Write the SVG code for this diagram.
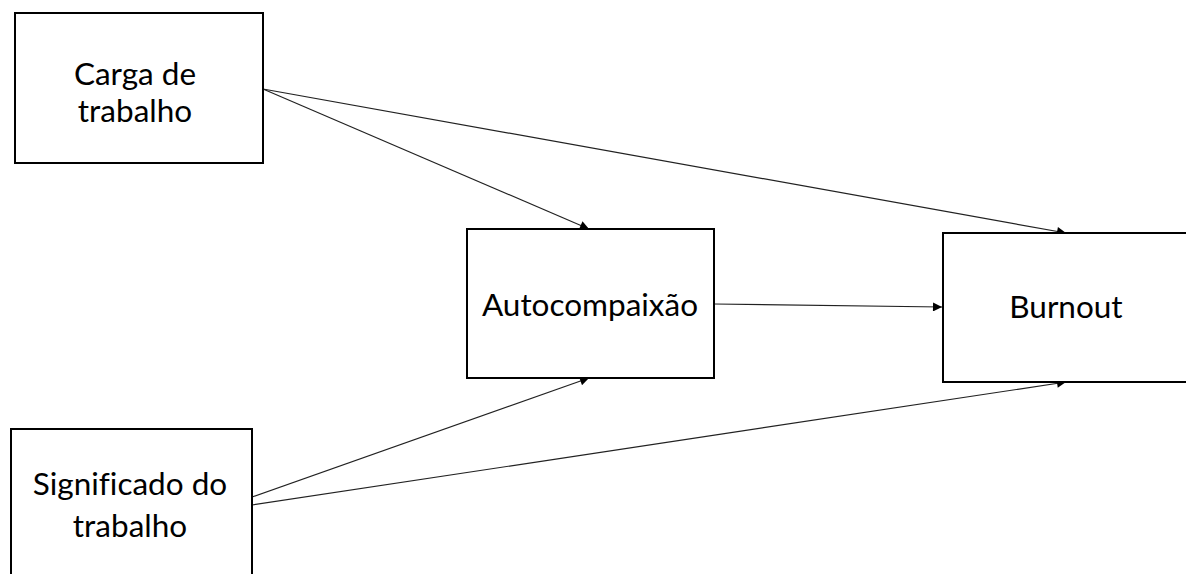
<svg xmlns="http://www.w3.org/2000/svg" width="1186" height="574" viewBox="0 0 1186 574">
  <style>
    .box { fill: #ffffff; stroke: #000000; stroke-width: 2; }
    .label { font-family: Lato, "Open Sans", "Liberation Sans", sans-serif; font-size: 31.5px; fill: #000000; text-anchor: middle; font-variant-ligatures: none; }
    .edge { stroke: #222222; stroke-width: 1.2; fill: none; marker-end: url(#arrow); }
  </style>
  <defs>
    <marker id="arrow" viewBox="0 0 10 10" refX="10" refY="5" markerWidth="12" markerHeight="9" markerUnits="userSpaceOnUse" orient="auto">
      <path d="M0,0 L10,5 L0,10 Z" fill="#000000"/>
    </marker>
  </defs>
  <rect width="1186" height="574" fill="#ffffff"/>

  <g id="connectors">
    <line class="edge" x1="263" y1="89" x2="589" y2="229"/>
    <line class="edge" x1="263" y1="89" x2="1066" y2="233"/>
    <line class="edge" x1="714" y1="304" x2="942" y2="307"/>
    <line class="edge" x1="252" y1="497" x2="589" y2="378"/>
    <line class="edge" x1="252" y1="505" x2="1066" y2="382"/>
  </g>

  <g id="carga">
    <rect class="box" x="15" y="13" width="248" height="150"/>
    <text class="label" x="135" y="85">Carga de</text>
    <text class="label" x="135" y="122">trabalho</text>
  </g>

  <g id="autocompaixao">
    <rect class="box" x="467" y="229" width="247" height="149"/>
    <text class="label" x="590" y="316">Autocompaixão</text>
  </g>

  <g id="burnout">
    <rect class="box" x="943" y="233" width="260" height="149"/>
    <text class="label" x="1066" y="318">Burnout</text>
  </g>

  <g id="significado">
    <rect class="box" x="11" y="429" width="241" height="160"/>
    <text class="label" x="130" y="495">Significado do</text>
    <text class="label" x="130" y="537">trabalho</text>
  </g>
</svg>
